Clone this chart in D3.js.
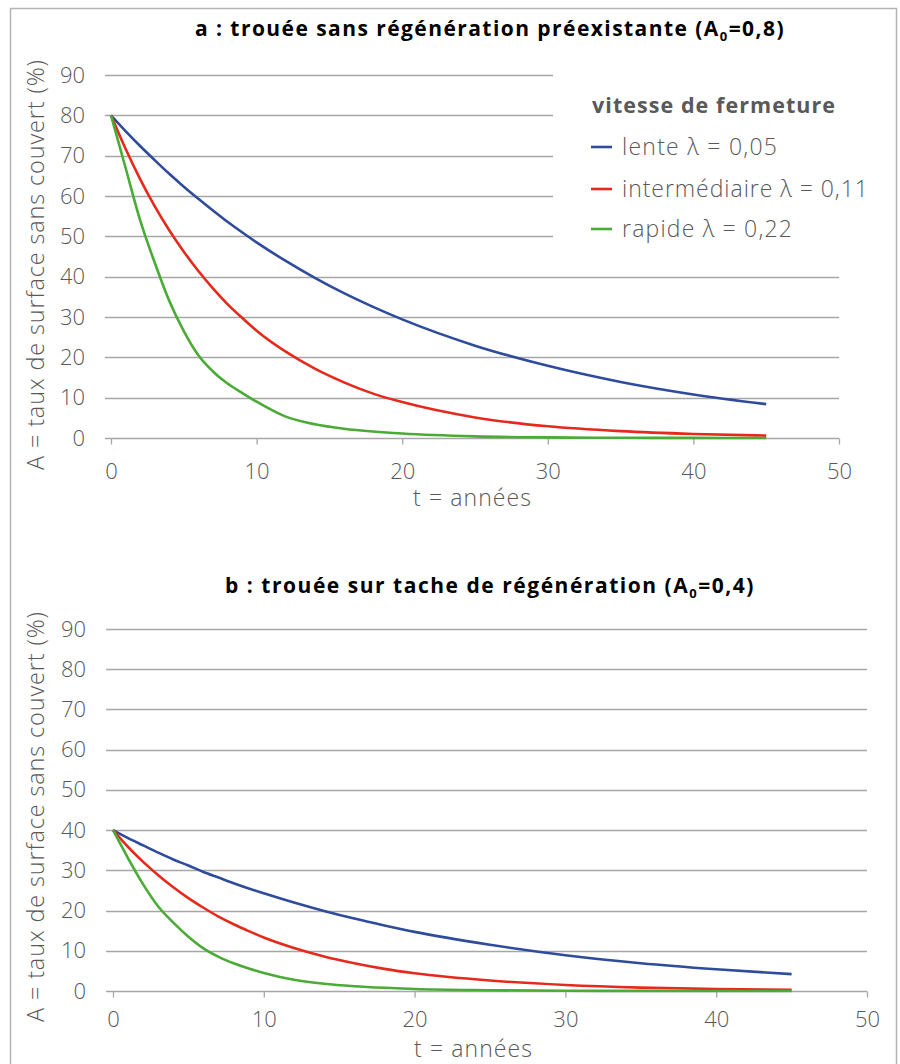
<!DOCTYPE html>
<html><head><meta charset="utf-8">
<script src="https://cdn.jsdelivr.net/npm/d3@7"></script>
<style>
body{margin:0;background:#fff;}
svg{display:block;}
text{font-family:"Open Sans",Lato,sans-serif;}
</style></head>
<body><svg id="c" width="900" height="1064"></svg>
<script>
const years = [0,1,2,3,4,5,6,7,8,9,10,12,14,16,18,20,25,30,35,40,45];
const aLente = [80,76.1,72.4,68.9,65.5,62.3,59.3,56.4,53.6,51.0,48.5,43.9,39.7,35.9,32.5,29.4,22.9,17.9,13.9,10.8,8.4];
const aInter = [80,71.7,64.2,57.5,51.5,46.2,41.4,37.1,33.2,29.8,26.6,21.4,17.2,13.8,11.0,8.9,5.1,2.9,1.7,1.0,0.6];
const aRapide = [80,67,54,43.5,34,26.5,20.5,16.5,13.5,11.2,9.0,5.3,3.4,2.3,1.6,1.1,0.4,0.15,0.05,0.02,0];
const bLente = [40,38.0,36.2,34.4,32.7,31.2,29.6,28.2,26.8,25.5,24.3,22.0,19.9,18.0,16.3,14.7,11.5,8.9,6.9,5.4,4.2];
const bInter = [40,35.8,32.1,28.8,25.8,23.1,20.7,18.5,16.6,14.9,13.3,10.7,8.6,6.9,5.5,4.4,2.6,1.5,0.85,0.5,0.3];
const bRapide = [40,33,26.5,21,17,13.5,10.6,8.5,6.9,5.6,4.5,2.8,1.8,1.2,0.8,0.5,0.2,0.07,0.02,0.01,0];
const xTicks = [0,10,20,30,40,50];
const yTicks = [0,10,20,30,40,50,60,70,80,90];
const seriesNames = ["lente \u03bb = 0,05","intermédiaire \u03bb = 0,11","rapide \u03bb = 0,22"];
const colors = ["#2e4c9b","#e5291c","#4aab36"];
const titleA = ["a : trouée sans régénération préexistante (A","0","=0,8)"];
const titleB = ["b : trouée sur tache de régénération (A","0","=0,4)"];
const legendTitle = "vitesse de fermeture";
const xLabel = "t = années";
const yLabel = "A = taux de surface sans couvert (%)";

const svg = d3.select("#c");
svg.append("rect").attr("width",900).attr("height",1064).attr("fill","#fff");
svg.append("rect").attr("x",10.5).attr("y",8.5).attr("width",886).attr("height",1070)
  .attr("fill","none").attr("stroke","#b3b3b3").attr("stroke-width",1.5);

const gray = "#595959", grid = "#a6a6a6";

function fitText(sel, len){
  const n = sel.node();
  const w = n.getComputedTextLength();
  if (w < len) sel.attr("textLength", len).attr("lengthAdjust","spacing");
}

function panel(cfg){
  const x = d3.scaleLinear().domain([0,50]).range([cfg.x0,cfg.x1]);
  const y = d3.scaleLinear().domain([0,90]).range([cfg.y0,cfg.y1]);
  const g = svg.append("g");
  // title
  const t = g.append("text").attr("x",cfg.titleX).attr("y",cfg.titleY)
    .attr("font-size",21).attr("font-weight",700).attr("fill","#000");
  t.append("tspan").text(cfg.title[0]);
  t.append("tspan").attr("font-size",13).attr("dy",5).text(cfg.title[1]);
  t.append("tspan").attr("dy",-5).text(cfg.title[2]);
  const tw = t.node().getComputedTextLength();
  const extra = (cfg.titleW - tw) / (cfg.title.join("").length);
  if (extra > 0) t.attr("letter-spacing", extra);
  // gridlines
  g.selectAll("line.grid").data(yTicks.filter(d=>d>0)).join("line")
    .attr("x1",cfg.gx).attr("x2",d=> (cfg.legend && d>=50) ? 553 : cfg.x1)
    .attr("y1",d=>Math.round(y(d))+0.5).attr("y2",d=>Math.round(y(d))+0.5)
    .attr("stroke",grid).attr("stroke-width",1.3);
  // x axis
  const ax = g.append("g").attr("transform",`translate(0,${Math.round(y(0))+0.5})`)
    .call(d3.axisBottom(x).tickValues(xTicks).tickSize(6).tickSizeOuter(0).tickFormat(d3.format("d")));
  ax.select(".domain").remove();
  ax.append("line").attr("x1",cfg.gx).attr("x2",cfg.x1).attr("stroke",grid).attr("stroke-width",1.3);
  ax.selectAll(".tick line").attr("stroke",grid).attr("stroke-width",1.3);
  ax.selectAll(".tick text").attr("font-size",22).attr("fill",gray).attr("font-weight",300)
    .attr("y",cfg.xLabY).attr("dy",0).style("font-family","'Open Sans'");
  // y tick labels
  const ay = g.append("g").attr("transform",`translate(${cfg.gx},0)`)
    .call(d3.axisLeft(y).tickValues(yTicks).tickSize(0).tickPadding(20).tickFormat(d3.format("d")));
  ay.select(".domain").remove();
  ay.selectAll(".tick text").attr("font-size",22).attr("fill",gray).attr("font-weight",300).style("font-family","'Open Sans'");
  // axis titles
  const xt = g.append("text").attr("x",cfg.xTitleX).attr("y",cfg.xTitleY)
    .attr("font-size",23).attr("fill",gray).attr("font-weight",300).text(xLabel);
  fitText(xt, 118);
  const yt = g.append("text").attr("transform",`translate(44,${cfg.yTitleC + 205}) rotate(-90)`)
    .attr("font-size",23.5).attr("fill",gray).attr("font-weight",300).text(yLabel);
  fitText(yt, 410);
  // lines
  const line = d3.line().x((d,i)=>x(years[i])).y(d=>y(d)).curve(d3.curveMonotoneX);
  cfg.series.forEach((s,k)=>{
    g.append("path").datum(s).attr("d",line).attr("fill","none")
      .attr("stroke",colors[k]).attr("stroke-width",2.6).attr("stroke-linejoin","round");
  });
  if(cfg.legend){
    const lg = g.append("g");
    const lt = lg.append("text").attr("x",592).attr("y",113).attr("font-size",21.5).attr("font-weight",700)
      .attr("fill",gray).text(legendTitle);
    fitText(lt, 243);
    const ly = [147,189,229];
    const lw = [155,246,170];
    seriesNames.forEach((n,k)=>{
      lg.append("line").attr("x1",591).attr("x2",612).attr("y1",ly[k]).attr("y2",ly[k])
        .attr("stroke",colors[k]).attr("stroke-width",2.6);
      const tx = lg.append("text").attr("x",622).attr("y",ly[k]+8).attr("font-size",23).attr("font-weight",300)
        .attr("fill",gray).text(n);
      fitText(tx, lw[k]);
    });
  }
}

panel({x0:111,x1:839,y0:438,y1:75,gx:105,titleX:195,titleW:590,titleY:36,xLabY:40,xTitleX:413,xTitleY:506,yTitleC:265,
  title:titleA,series:[aLente,aInter,aRapide],legend:true});
panel({x0:113,x1:867,y0:991,y1:629,gx:106,titleX:225,titleW:530,titleY:593,xLabY:35,xTitleX:414,xTitleY:1057,yTitleC:817,
  title:titleB,series:[bLente,bInter,bRapide],legend:false});
</script></body></html>
